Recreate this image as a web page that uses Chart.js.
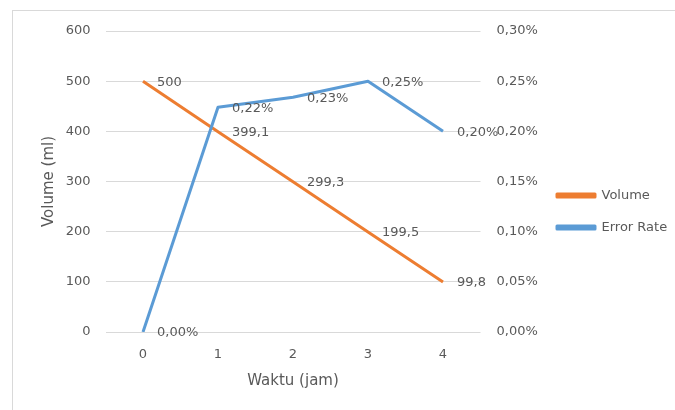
<!DOCTYPE html>
<html>
<head>
<meta charset="utf-8">
<script src="https://cdn.jsdelivr.net/npm/chart.js@4/dist/chart.umd.min.js"></script>
<style>
  html, body { margin: 0; padding: 0; background: #fff; overflow: hidden; }
  #wrap { width: 700px; height: 410px; }
</style>
</head>
<body>
<div id="wrap"><canvas id="chart" width="700" height="410"></canvas></div>
<script>
// Data
const hours = ['0', '1', '2', '3', '4'];
const volume = [500, 399.1, 299.3, 199.5, 99.8];      // ml
const errorRate = [0, 0.224, 0.234, 0.25, 0.20];      // percent
const volumeTicks = [0, 100, 200, 300, 400, 500, 600];
const rateTicks = [0, 0.05, 0.10, 0.15, 0.20, 0.25, 0.30];

const FONT = 'DejaVu Sans';
const TEXT = '#595959';
const ORANGE = '#ED7D31';
const BLUE = '#5B9BD5';

const fmtPct = v => v.toFixed(2).replace('.', ',') + '%';
const fmtVol = v => String(v).replace('.', ',');

// White background + light frame like the Excel chart area
const framePlugin = {
    id: 'frame',
    beforeDraw(chart) {
        const ctx = chart.ctx;
        ctx.save();
        ctx.fillStyle = '#fff';
        ctx.fillRect(0, 0, chart.width, chart.height);
        ctx.strokeStyle = '#D9D9D9';
        ctx.lineWidth = 1;
        ctx.strokeRect(12.5, 10.5, 900, 600);
        ctx.restore();
    }
};

// Data labels to the right of each point
const labelPlugin = {
    id: 'pointLabels',
    afterDatasetsDraw(chart) {
        const ctx = chart.ctx;
        ctx.save();
        ctx.font = '13px "' + FONT + '"';
        ctx.fillStyle = TEXT;
        ctx.textBaseline = 'middle';
        ctx.textAlign = 'left';
        chart.data.datasets.forEach((ds, i) => {
            const meta = chart.getDatasetMeta(i);
            meta.data.forEach((pt, j) => {
                const txt = ds.yAxisID === 'y1' ? fmtPct(ds.data[j]) : fmtVol(ds.data[j]);
                ctx.fillText(txt, pt.x + 14, pt.y + 1);
            });
        });
        ctx.restore();
    }
};

const ctx = document.getElementById('chart').getContext('2d');
const chart = new Chart(ctx, {
    type: 'line',
    data: {
        labels: hours,
        datasets: [
            { label: 'Volume', data: volume, yAxisID: 'y', borderColor: ORANGE, backgroundColor: ORANGE,
              borderWidth: 3, pointRadius: 0, tension: 0, order: 1, borderJoinStyle: 'round' },
            { label: 'Error Rate', data: errorRate, yAxisID: 'y1', borderColor: BLUE, backgroundColor: BLUE,
              borderWidth: 3, pointRadius: 0, tension: 0, order: 0, borderJoinStyle: 'round' }
        ]
    },
    options: {
        responsive: false,
        animation: false,
        devicePixelRatio: 1,
        layout: { padding: { left: 12, top: 31, right: 28, bottom: 18 } },
        plugins: {
            tooltip: { enabled: false },
            legend: {
                position: 'right',
                maxWidth: 134,
                labels: {
                    boxWidth: 38, boxHeight: 3, padding: 19,
                    color: TEXT, font: { family: FONT, size: 13 },
                    sort: (a, b) => a.datasetIndex - b.datasetIndex
                }
            }
        },
        scales: {
            x: {
                offset: true,
                grid: { display: false, drawTicks: false },
                border: { display: false },
                ticks: { color: TEXT, font: { family: FONT, size: 13 }, padding: 15 },
                title: { display: true, text: 'Waktu (jam)', color: TEXT, font: { family: FONT, size: 15 }, padding: { top: 0, bottom: 2 } },
                afterFit: s => { s.height = 60; }
            },
            y: {
                position: 'left',
                min: volumeTicks[0], max: volumeTicks[volumeTicks.length - 1],
                afterBuildTicks: s => { s.ticks = volumeTicks.map(v => ({ value: v })); },
                grid: { color: '#D9D9D9', lineWidth: 1, drawTicks: false },
                border: { display: false },
                ticks: { color: TEXT, font: { family: FONT, size: 13 }, padding: 15 },
                title: { display: true, text: 'Volume (ml)', color: TEXT, font: { family: FONT, size: 15 }, padding: { top: 28, bottom: 0 } },
                afterFit: s => { s.width = 93.5; }
            },
            y1: {
                position: 'right',
                min: rateTicks[0], max: rateTicks[rateTicks.length - 1],
                afterBuildTicks: s => { s.ticks = rateTicks.map(v => ({ value: v })); },
                grid: { display: false, drawTicks: false },
                border: { display: false },
                ticks: { color: TEXT, font: { family: FONT, size: 13 }, padding: 16, callback: v => fmtPct(v) },
                afterFit: s => { s.width = 57.5; }
            }
        }
    },
    plugins: [framePlugin, labelPlugin]
});
</script>
</body>
</html>
